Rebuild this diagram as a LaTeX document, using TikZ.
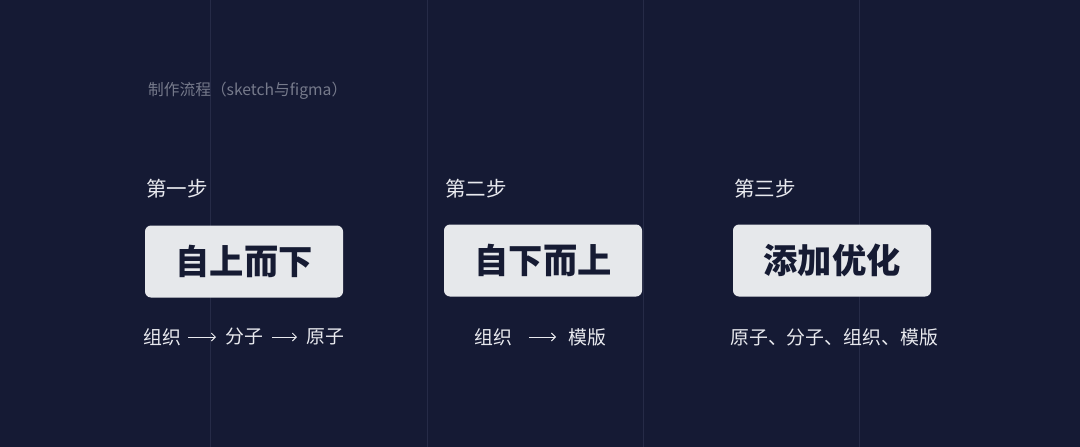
\documentclass[tikz,border=0pt]{standalone}
\usepackage{fontspec}
\newfontfamily\cjk{Noto Sans CJK SC}
\usetikzlibrary{arrows.meta}
\definecolor{bgc}{HTML}{151A34}
\definecolor{gridc}{HTML}{262B47}
\definecolor{boxc}{HTML}{E6E8EB}
\definecolor{boxtxt}{HTML}{161B33}
\definecolor{titlec}{HTML}{767A8B}
\definecolor{txtc}{HTML}{E8E9EE}
\tikzset{
  steplabel/.style={anchor=west, inner sep=0pt, text=txtc, font=\cjk\fontsize{20.5}{20.5}\selectfont},
  stagebox/.style={fill=boxc, rounded corners=6pt, minimum width=198pt, minimum height=72pt, inner sep=0pt, text=boxtxt, font=\cjk\bfseries\fontsize{34.3}{34.3}\selectfont},
  word/.style={inner sep=0pt, text=txtc, font=\cjk\fontsize{18.9}{18.9}\selectfont},
  flow/.style={draw=txtc, line width=0.9pt, -{Straight Barb[length=4pt,width=8pt]}},
  gridline/.style={draw=gridc, line width=1pt}
}
\begin{document}
\begin{tikzpicture}[x=1pt,y=-1pt]
\fill[bgc] (0,0) rectangle (1080,447);
\useasboundingbox (0,0) rectangle (1080,447);
\foreach \gx in {210.5,427,643,859}{\draw[gridline] (\gx,0) -- (\gx,447);}
\node[anchor=west, inner sep=0pt, text=titlec, font=\cjk\fontsize{15.7}{15.7}\selectfont] (title) at (148,91) {制作流程（sketch与figma）};
\node[steplabel] (s1) at (146,188.5) {第一步};
\node[steplabel] (s2) at (445,188.5) {第二步};
\node[steplabel] (s3) at (734,188.5) {第三步};
\node[stagebox] (b1) at (244,261.5) {自上而下};
\node[stagebox] (b2) at (543,260.5) {自下而上};
\node[stagebox] (b3) at (832,260.5) {添加优化};
\node[word, anchor=west] (a1) at (143,337) {组织};
\node[word, anchor=west] (a2) at (225,337) {分子};
\node[word, anchor=west] (a3) at (306,337) {原子};
\draw[flow] ([xshift=7pt]a1.east) -- ([xshift=-9pt]a2.west);
\draw[flow] ([xshift=9pt]a2.east) -- ([xshift=-9pt]a3.west);
\node[word, anchor=west] (c1) at (474,337) {组织};
\node[word, anchor=west] (c2) at (568,337) {模版};
\draw[flow] ([xshift=17pt]c1.east) -- ([xshift=-12pt]c2.west);
\node[word, anchor=west] (d1) at (730,337) {原子、分子、组织、模版};
\end{tikzpicture}
\end{document}
